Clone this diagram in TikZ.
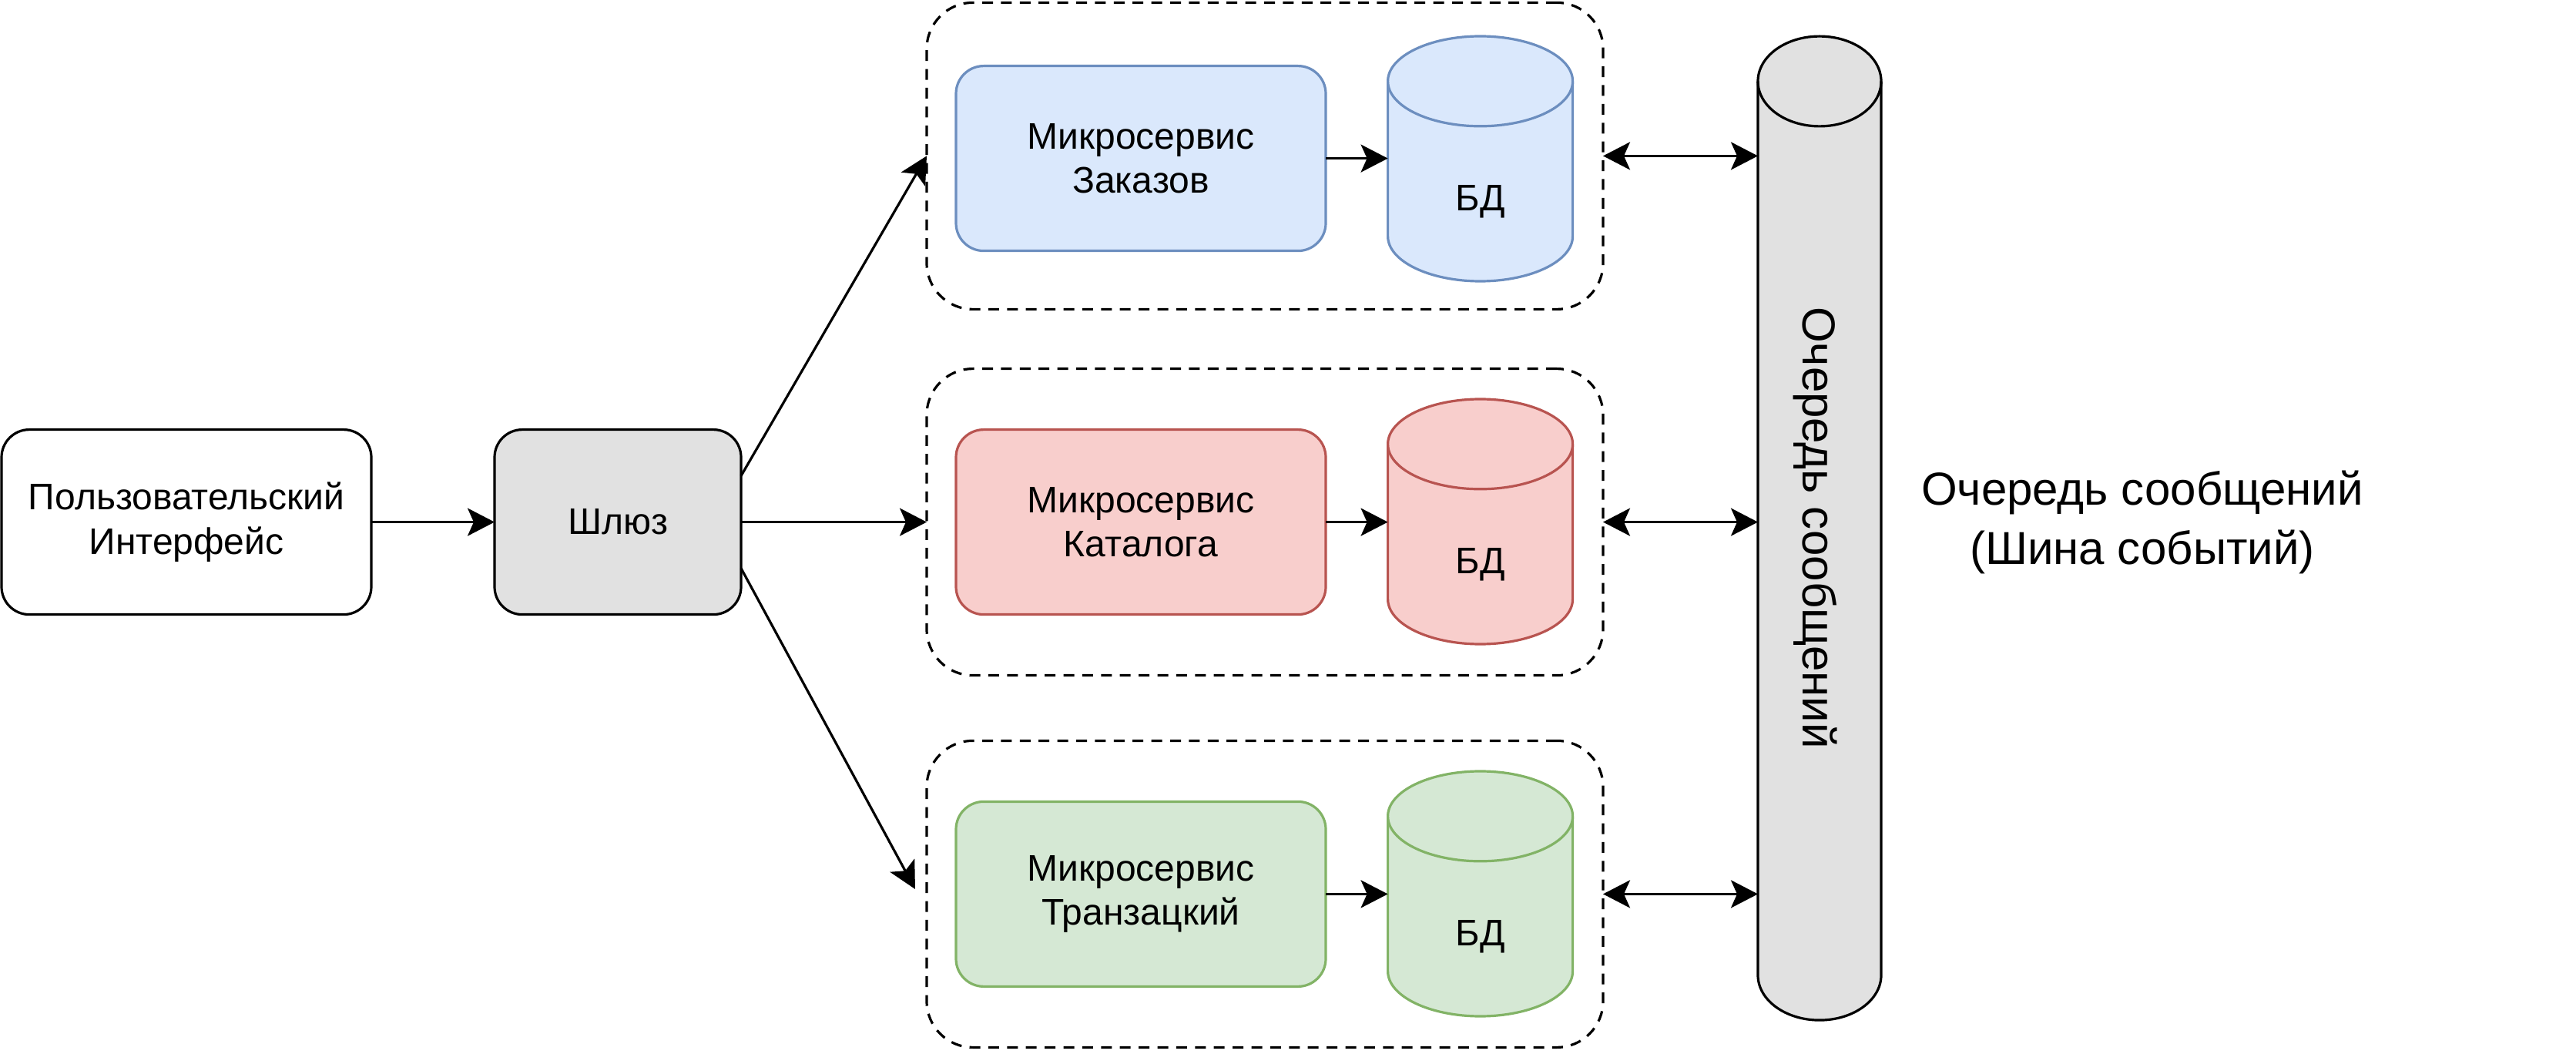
\documentclass[tikz,border=0pt]{standalone}
\usepackage{fontspec}
\setmainfont{Liberation Sans}
\usetikzlibrary{arrows.meta,calc}
\definecolor{bluefill}{HTML}{DAE8FC}
\definecolor{bluedraw}{HTML}{6C8EBF}
\definecolor{redfill}{HTML}{F8CECC}
\definecolor{reddraw}{HTML}{B85450}
\definecolor{greenfill}{HTML}{D5E8D4}
\definecolor{greendraw}{HTML}{82B366}
\definecolor{grayfill}{HTML}{E1E1E1}
\newcommand\drawcyl[5]{%
  \path[lw, fill=#2, draw=#3] ([yshift=-#5]#1.north west) -- ([yshift=#5]#1.south west)
     arc[start angle=180,end angle=360,x radius=#4,y radius=#5]
     -- ([yshift=-#5]#1.north east)
     arc[start angle=0,end angle=180,x radius=#4,y radius=#5] -- cycle;
  \draw[lw, draw=#3] ([yshift=-#5]#1.north west) arc[start angle=180,end angle=360,x radius=#4,y radius=#5];
}
\begin{document}
\begin{tikzpicture}[x=1pt,y=1pt,
  lw/.style={line width=0.8pt},
  txt/.style={font=\fontsize{12}{14.4}\selectfont, align=center, inner sep=0pt},
  bigtxt/.style={font=\fontsize{15}{19.2}\selectfont, align=center, inner sep=0pt},
  box/.style={draw, lw, rounded corners=9pt, minimum width=120pt, minimum height=60pt, txt, outer sep=0pt},
  grp/.style={draw, lw, dash pattern=on 3.5pt off 2.6pt, rounded corners=15pt, minimum width=219.5pt, minimum height=99.5pt, inner sep=0pt, outer sep=0pt},
  cylarea/.style={minimum width=60pt, minimum height=79.5pt, inner sep=0pt, outer sep=0pt},
  arr/.style={lw, -{Stealth[length=8.75pt,width=9pt,inset=2pt]}},
  biarr/.style={lw, {Stealth[length=8.75pt,width=9pt,inset=2pt]}-{Stealth[length=8.75pt,width=9pt,inset=2pt]}},
]
\useasboundingbox (0,0) rectangle (836,-342);

% left side
\node[box] (ui) at (60.5,-169.4) {Пользовательский\\Интерфейс};
\node[box, fill=grayfill, minimum width=80pt] (gw) at (200.5,-169.4) {Шлюз};

% groups
\node[grp] (g1) at (410.5,-50.6) {};
\node[grp] (g2) at (410.5,-169.4) {};
\node[grp] (g3) at (410.5,-290.1) {};

% services
\node[box, fill=bluefill, draw=bluedraw] (s1) at (370.25,-51.4) {Микросервис\\Заказов};
\node[box, fill=redfill, draw=reddraw] (s2) at (370.25,-169.4) {Микросервис\\Каталога};
\node[box, fill=greenfill, draw=greendraw] (s3) at (370.25,-290.1) {Микросервис\\Транзацкий};

% databases
\node[cylarea] (d1) at (480.4,-51.5) {};
\node[cylarea] (d2) at (480.4,-169.25) {};
\node[cylarea] (d3) at (480.4,-290) {};
\drawcyl{d1}{bluefill}{bluedraw}{30pt}{14.6pt}
\drawcyl{d2}{redfill}{reddraw}{30pt}{14.6pt}
\drawcyl{d3}{greenfill}{greendraw}{30pt}{14.6pt}
\node[txt] (t1) at ([yshift=-14pt]d1.center) {БД};
\node[txt] (t2) at ([yshift=-14pt]d2.center) {БД};
\node[txt] (t3) at ([yshift=-14pt]d3.center) {БД};

% queue
\node[minimum width=40pt, minimum height=319.25pt, inner sep=0pt, outer sep=0pt] (q) at (590.5,-171.4) {};
\drawcyl{q}{grayfill}{black}{20pt}{14.6pt}
\node[bigtxt, rotate=-90] (qt) at (589.25,-171.25) {Очередь сообщений};

% label
\node[bigtxt] (lbl) at (695.25,-169.5) {Очередь сообщений\\(Шина событий)};

% connectors
\draw[arr] (ui.east) -- (gw.west);
\draw[arr] ($(gw.north east)!0.25!(gw.south east)$) -- (g1.west);
\draw[arr] (gw.east) -- (g2.west);
\coordinate (e3) at (297,-288.5);
\draw[arr] ($(gw.north east)!0.75!(gw.south east)$) -- (e3);

\draw[arr] (s1.east) -- (s1.east -| d1.west);
\draw[arr] (s2.east) -- (s2.east -| d2.west);
\draw[arr] (s3.east) -- (s3.east -| d3.west);

\draw[biarr] (g1.east) -- (g1.east -| q.west);
\draw[biarr] (g2.east) -- (g2.east -| q.west);
\draw[biarr] (g3.east) -- (g3.east -| q.west);
\end{tikzpicture}
\end{document}
